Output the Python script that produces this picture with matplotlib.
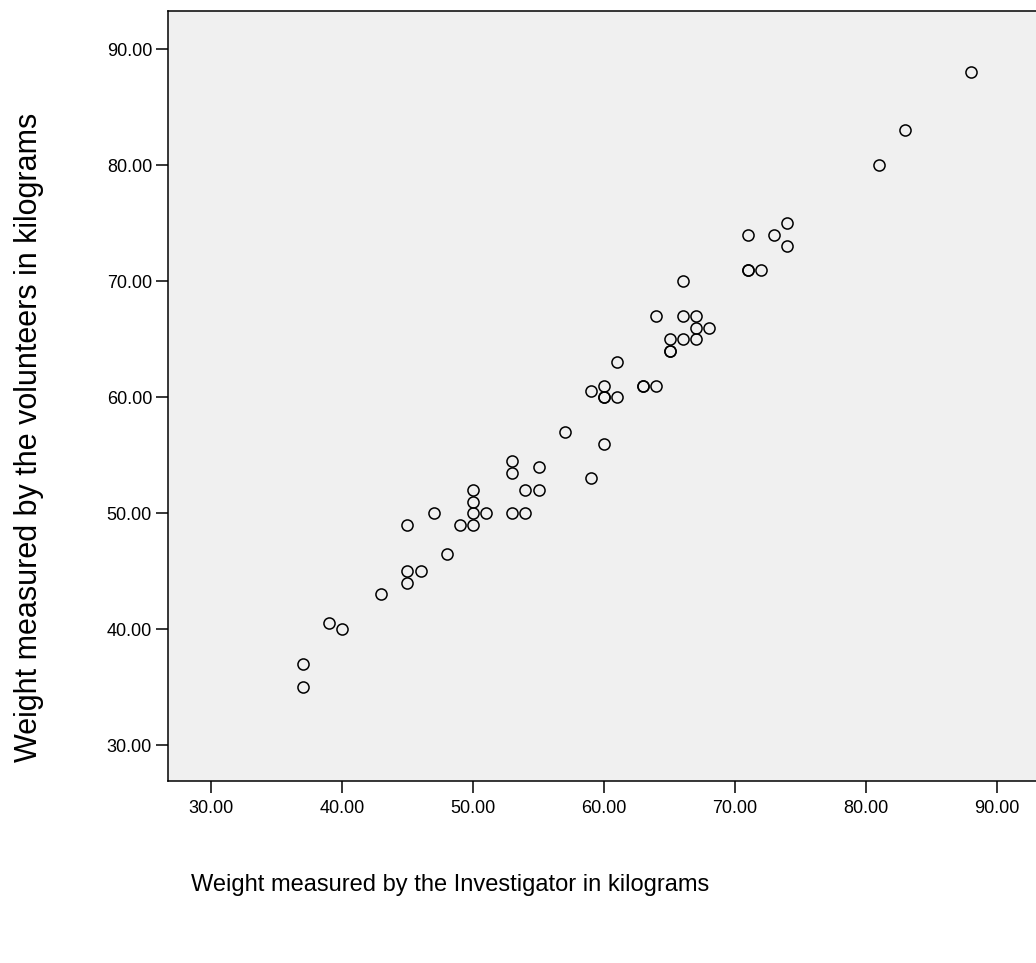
import matplotlib
matplotlib.use("Agg")
import matplotlib.pyplot as plt

# Data: weight measured by investigator (x) vs by volunteers (y), kg
investigator_kg = [88, 83, 81, 71, 73, 74, 74, 71, 71, 72, 66, 64, 66, 67, 67, 68,
                   65, 66, 67, 65, 65, 61, 63, 63, 64, 60, 59, 60, 60, 61, 57, 60,
                   59, 53, 53, 55, 54, 55, 53, 54, 50, 50, 50, 51, 50, 49, 47, 45,
                   48, 45, 46, 45, 43, 39, 40, 37, 37]
volunteers_kg = [88, 83, 80, 74, 74, 75, 73, 71, 71, 71, 70, 67, 67, 67, 66, 66,
                 65, 65, 65, 64, 64, 63, 61, 61, 61, 61, 60.5, 60, 60, 60, 57, 56,
                 53, 54.5, 53.5, 54, 52, 52, 50, 50, 52, 51, 50, 50, 49, 49, 50, 49,
                 46.5, 45, 45, 44, 43, 40.5, 40, 37, 35]
tick_values = [30, 40, 50, 60, 70, 80, 90]
tick_labels = ["30.00", "40.00", "50.00", "60.00", "70.00", "80.00", "90.00"]
x_title = "Weight measured by the Investigator in kilograms"
y_title = "Weight measured by the volunteers in kilograms"

fig = plt.figure(figsize=(10.36, 9.63), dpi=100)
ax = fig.add_axes([168/1036, 1 - 781/963, (1039 - 168)/1036, (781 - 11)/963])
ax.set_facecolor("#f0f0f0")

ax.plot(investigator_kg, volunteers_kg, linestyle="none", marker="o",
        markersize=8, markerfacecolor="none", markeredgecolor="black",
        markeredgewidth=1.1)

ax.set_xlim(26.72, 93.2)
ax.set_ylim(26.9, 93.3)
ax.set_xticks(tick_values)
ax.set_xticklabels(tick_labels)
ax.set_yticks(tick_values)
ax.set_yticklabels(tick_labels)
for lab in ax.get_xticklabels() + ax.get_yticklabels():
    lab.set_fontfamily("Liberation Sans")
    lab.set_fontsize(13)
ax.tick_params(direction="out", length=8.5, width=1.1, color="black", pad=3)
ax.tick_params(axis="x", pad=5)
for side in ["top", "right", "left", "bottom"]:
    ax.spines[side].set_linewidth(1.1)
    ax.spines[side].set_color("black")

fig.text(450/1036, 1 - 885/963, x_title, ha="center", va="center",
         fontsize=17, family="Liberation Sans")
fig.text(29/1036, 1 - 437/963, y_title, ha="center", va="center",
         rotation=90, fontsize=22, family="Liberation Sans")

fig.savefig("out.png", dpi=100, facecolor="white")
